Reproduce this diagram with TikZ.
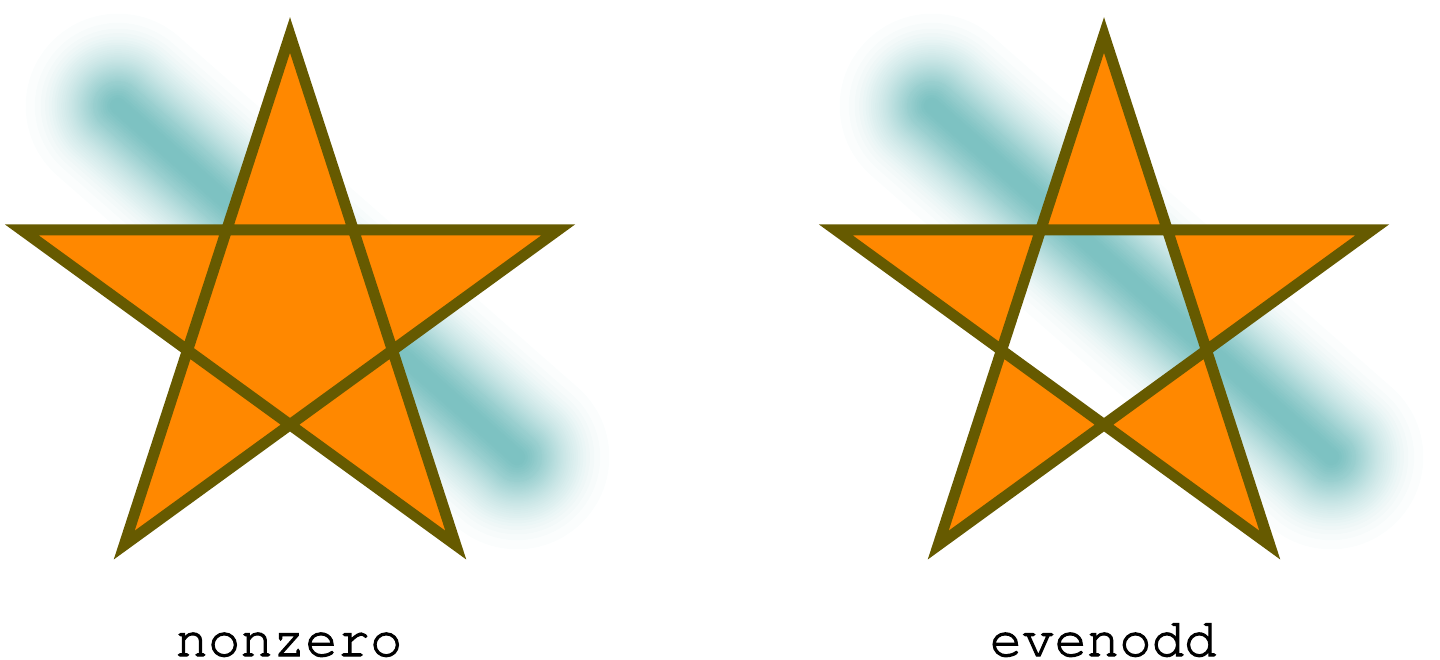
\documentclass[tikz,border=0pt]{standalone}
\usepackage{fontspec}
\newfontfamily\monofont[FakeBold=2]{TeX Gyre Cursor}
\definecolor{starfill}{RGB}{255,136,0}
\definecolor{starline}{RGB}{102,90,0}
\definecolor{glow}{RGB}{0,135,135}
\tikzset{
  starshape/.style={fill=starfill, draw=starline, line width=11pt, miter limit=10},
  glowline/.style={draw=glow, line cap=round, draw opacity=0.0165},
  glowcore/.style={draw=glow, line cap=round, draw opacity=0.012},
  label/.style={font=\monofont\fontsize{54}{54}\selectfont, inner sep=0pt, anchor=base}
}
\begin{document}
\begin{tikzpicture}[x=1pt,y=-1pt]
\useasboundingbox (0,0) rectangle (1440,660);
% blurred diagonal strokes (soft profile from stacked strokes)
\coordinate (g1a) at (118,106);
\coordinate (g1b) at (517,457);
\coordinate (g2a) at (932,106);
\coordinate (g2b) at (1331,457);
\foreach \k in {1,...,39}{
  \pgfmathsetmacro{\w}{2*34*sqrt(2*ln(40/\k))}
  \draw[glowline, line width=\w pt] (g1a) -- (g1b);
  \draw[glowline, line width=\w pt] (g2a) -- (g2b);
}
\foreach \k in {1,...,8}{
  \pgfmathsetmacro{\w}{2*12*sqrt(2*ln(9/\k))}
  \draw[glowcore, line width=\w pt] (g1a) -- (g1b);
  \draw[glowcore, line width=\w pt] (g2a) -- (g2b);
}
% left star, nonzero
\filldraw[starshape, nonzero rule] (290,35) -- (124.2,545.1) -- (558.2,229.9) -- (21.8,229.9) -- (455.8,545.1) -- cycle;
% right star, evenodd
\filldraw[starshape, even odd rule] (1104,35) -- (938.2,545.1) -- (1372.2,229.9) -- (835.8,229.9) -- (1269.8,545.1) -- cycle;
\node[label] (nz) at (289,656) {nonzero};
\node[label] (eo) at (1103,656) {evenodd};
\end{tikzpicture}
\end{document}
